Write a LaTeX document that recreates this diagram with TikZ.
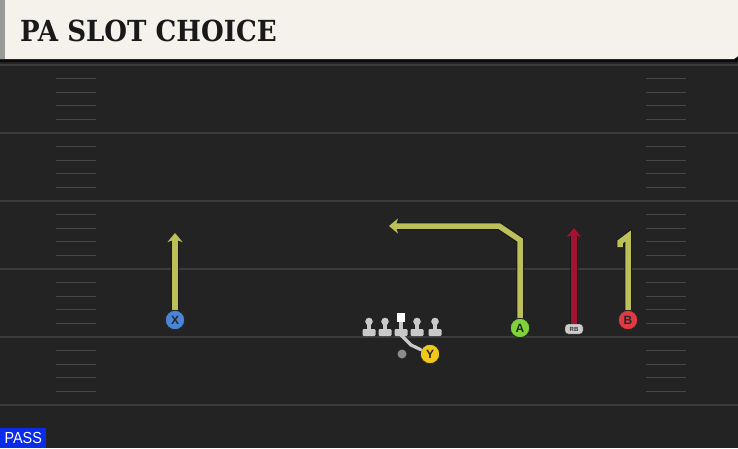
\documentclass[tikz,border=0pt]{standalone}
\usepackage{fontspec}
\setsansfont{Liberation Sans}
\newfontfamily\titlefont{DejaVu Serif}
\usepackage{tikz}
\usetikzlibrary{arrows.meta}
\definecolor{field}{HTML}{232323}
\definecolor{yardc}{HTML}{3B3B3B}
\definecolor{hashc}{HTML}{464646}
\definecolor{cream}{HTML}{F4F2EB}
\definecolor{rtyellow}{HTML}{BDBF58}
\definecolor{rtred}{HTML}{A3122F}
\definecolor{xblue}{HTML}{4A84D8}
\definecolor{agreen}{HTML}{7ED23A}
\definecolor{bred}{HTML}{E23A44}
\definecolor{ygold}{HTML}{F2C71C}
\definecolor{passblue}{HTML}{0A2BE8}
\definecolor{linegray}{HTML}{C9C9C9}
\tikzset{
  player/.style={circle, draw=black!85, line width=0.9pt, minimum size=19.5pt, inner sep=0pt,
    font=\sffamily\bfseries\fontsize{12}{12}\selectfont, text=black!85},
  route/.style={line width=5.5pt, line join=miter, preaction={draw=black!90, line width=7.5pt}},
  tip/.style={-{Stealth[length=9pt,width=15pt,inset=2.5pt]}},
  motion/.style={linegray, line width=3.2pt, line cap=round}
}
\begin{document}
\begin{tikzpicture}[x=1pt,y=-1pt]
\useasboundingbox (0,0) rectangle (738,448);
\fill[field] (0,0) rectangle (738,448);
% yard lines and hashes
\foreach \y in {65,133,...,405}
  \draw[yardc, line width=2pt] (0,\y) -- (738,\y);
\foreach \y in {65,133,...,337}{
  \foreach \k in {1,...,4}{
    \draw[hashc, line width=1.3pt] (56,\y+13.6*\k) -- (96,\y+13.6*\k);
    \draw[hashc, line width=1.3pt] (646,\y+13.6*\k) -- (686,\y+13.6*\k);
  }
}
% title bar
\fill[black!70!field] (0,58) rectangle (738,62);
\fill[cream] (0,0) -- (738,0) -- (738,56) -- (734,59) -- (0,59) -- cycle;
\fill[black!40] (0,0) rectangle (5,59);
\node[anchor=west, inner sep=0pt, text=black!90] (title) at (20,31)
  {\scalebox{0.9}[1]{\titlefont\bfseries\fontsize{29}{29}\selectfont PA SLOT CHOICE}};
% line
\foreach \x in {369,385,417,435}{
  \fill[linegray] (\x,321.5) circle (3.8);
  \fill[linegray] (\x-2,322) rectangle (\x+2,331);
  \fill[linegray, rounded corners=1.2pt] (\x-6.5,329) rectangle (\x+6.5,336);
}
\fill[white] (397,313) rectangle (405,322);
\fill[linegray] (399,322) rectangle (403,331);
\fill[linegray, rounded corners=1.2pt] (394.5,329) rectangle (407.5,336);
\node[circle, fill=black!45, minimum size=9pt, inner sep=0pt] (QB) at (402,354) {};
% players
\node[player, fill=xblue] (X) at (175,320) {X};
\node[player, fill=agreen] (A) at (520,328) {A};
\node[player, fill=bred] (B) at (628,320) {B};
\node[player, fill=ygold] (Y) at (430,354) {Y};
\node[draw=black!85, fill=black!20, rounded corners=3pt, minimum width=18pt, minimum height=10pt,
  inner sep=0pt, font=\sffamily\bfseries\fontsize{6}{6}\selectfont, text=black!80] (RB) at (574,329) {RB};
% routes
\coordinate (xend) at (175,233);
\coordinate (abreak) at (520,240);
\coordinate (acut) at (499,226);
\coordinate (aend) at (389,226);
\coordinate (rbend) at (574,228);
\coordinate (btop) at (628,236);
\coordinate (bhook) at (620,242);
\coordinate (bend) at (620,247);
\coordinate (snap) at (399,333);
\coordinate (mbend) at (411,345);
\draw[route, rtyellow, tip] (X) -- (xend);
\draw[route, rtyellow, tip] (A) -- (abreak) -- (acut) -- (aend);
\draw[route, rtred, tip] (RB) -- (rbend);
\draw[route, rtyellow] (B) -- (btop) -- (bhook) -- (bend);
\draw[motion] (snap) -- (mbend) -- (Y);
% play type
\node[anchor=south west, fill=passblue, text=white, minimum width=46pt, minimum height=20pt,
  inner sep=0pt, font=\sffamily\fontsize{16}{16}\selectfont] (pass) at (0,448) {\scalebox{0.9}[1]{PASS}};
\end{tikzpicture}
\end{document}
